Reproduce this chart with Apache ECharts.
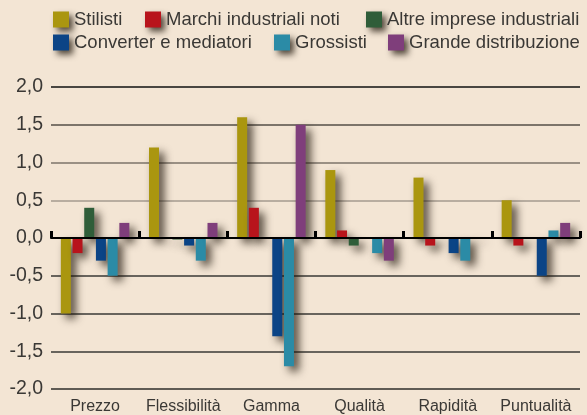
<!DOCTYPE html>
<html>
<head>
<meta charset="utf-8">
<script src="https://cdn.jsdelivr.net/npm/echarts@6/dist/echarts.min.js"></script>
<style>
html,body{margin:0;padding:0;background:#f3e5d4;}
#c{width:587px;height:415px;}
</style>
</head>
<body>
<div id="c"></div>
<script>
var categories = ['Prezzo', 'Flessibilità', 'Gamma', 'Qualità', 'Rapidità', 'Puntualità'];
var seriesNames = ['Stilisti', 'Marchi industriali noti', 'Altre imprese industriali', 'Converter e mediatori', 'Grossisti', 'Grande distribuzione'];
var stilisti = [-1.0, 1.2, 1.6, 0.9, 0.8, 0.5];
var marchi = [-0.2, 0.01, 0.4, 0.1, -0.1, -0.1];
var altre = [0.4, -0.02, 0.01, -0.1, 0.01, 0.01];
var converter = [-0.3, -0.1, -1.3, 0, -0.2, -0.5];
var grossisti = [-0.5, -0.3, -1.7, -0.2, -0.3, 0.1];
var grande = [0.2, 0.2, 1.5, -0.3, 0.01, 0.2];
var yMin = -2, yMax = 2, yStep = 0.5;

var colors = ['#aa960f', '#b8141c', '#2f5d39', '#0b4486', '#2b8ba6', '#7f3e7b'];
var allData = [stilisti, marchi, altre, converter, grossisti, grande];

var chart = echarts.init(document.getElementById('c'), null, {renderer: 'canvas'});
var legendPos = [[53, 10], [145, 10], [366, 10], [53, 33], [274, 33], [388, 33]];
var shadow = {shadowColor: 'rgba(30,20,10,0.75)', shadowBlur: 8, shadowOffsetX: 5, shadowOffsetY: 5};
var legends = seriesNames.map(function (n, i) {
  return {
    data: [n], left: legendPos[i][0], top: legendPos[i][1], orient: 'horizontal',
    itemWidth: 16, itemHeight: 16, icon: 'rect', selectedMode: false, padding: 0,
    itemStyle: {shadowColor: 'rgba(30,20,10,0.75)', shadowBlur: 6, shadowOffsetX: 4, shadowOffsetY: 4},
    textStyle: {fontFamily: 'Liberation Sans, Arial, sans-serif', fontSize: 18.5, color: '#3a3835'}
  };
});
var series = seriesNames.map(function (n, i) {
  return {
    name: n, type: 'bar', xAxisIndex: 0, data: allData[i], barWidth: 10, barGap: '17%',
    itemStyle: Object.assign({color: colors[i]}, shadow),
    emphasis: {disabled: true},
    animation: false
  };
});
chart.setOption({
  backgroundColor: '#f3e5d4',
  animation: false,
  color: colors,
  legend: legends,
  grid: {left: 51, right: 7, top: 87, bottom: 25, containLabel: false},
  xAxis: [{
    type: 'category', data: categories, position: 'bottom', z: 5,
    axisLine: {show: true, onZero: true, lineStyle: {color: '#000', width: 2}},
    axisTick: {show: true, inside: true, length: 7, lineStyle: {color: '#000', width: 3}},
    axisLabel: {show: false}, splitLine: {show: false}
  }, {
    type: 'category', data: categories, position: 'bottom',
    axisLine: {show: false, onZero: false}, axisTick: {show: false},
    axisLabel: {show: true, interval: 0, margin: 10, fontFamily: 'Liberation Sans, Arial, sans-serif', fontSize: 16, color: '#3a3835'},
    splitLine: {show: false}
  }],
  yAxis: {
    type: 'value', min: yMin, max: yMax, interval: yStep,
    axisLine: {show: false}, axisTick: {show: false},
    axisLabel: {margin: 8, fontFamily: 'Liberation Sans, Arial, sans-serif', fontSize: 19.5, color: '#3a3835',
      formatter: function (v) { return v.toFixed(1).replace('.', ','); }},
    splitLine: {show: true, lineStyle: {width: 1.6, color: ['#2e2c2a', '#3a3836', '#3a3836', '#3a3836', '#000', '#a49a8f', '#7c736a', '#554e47', '#111']}}
  },
  series: series
});
</script>
</body>
</html>
